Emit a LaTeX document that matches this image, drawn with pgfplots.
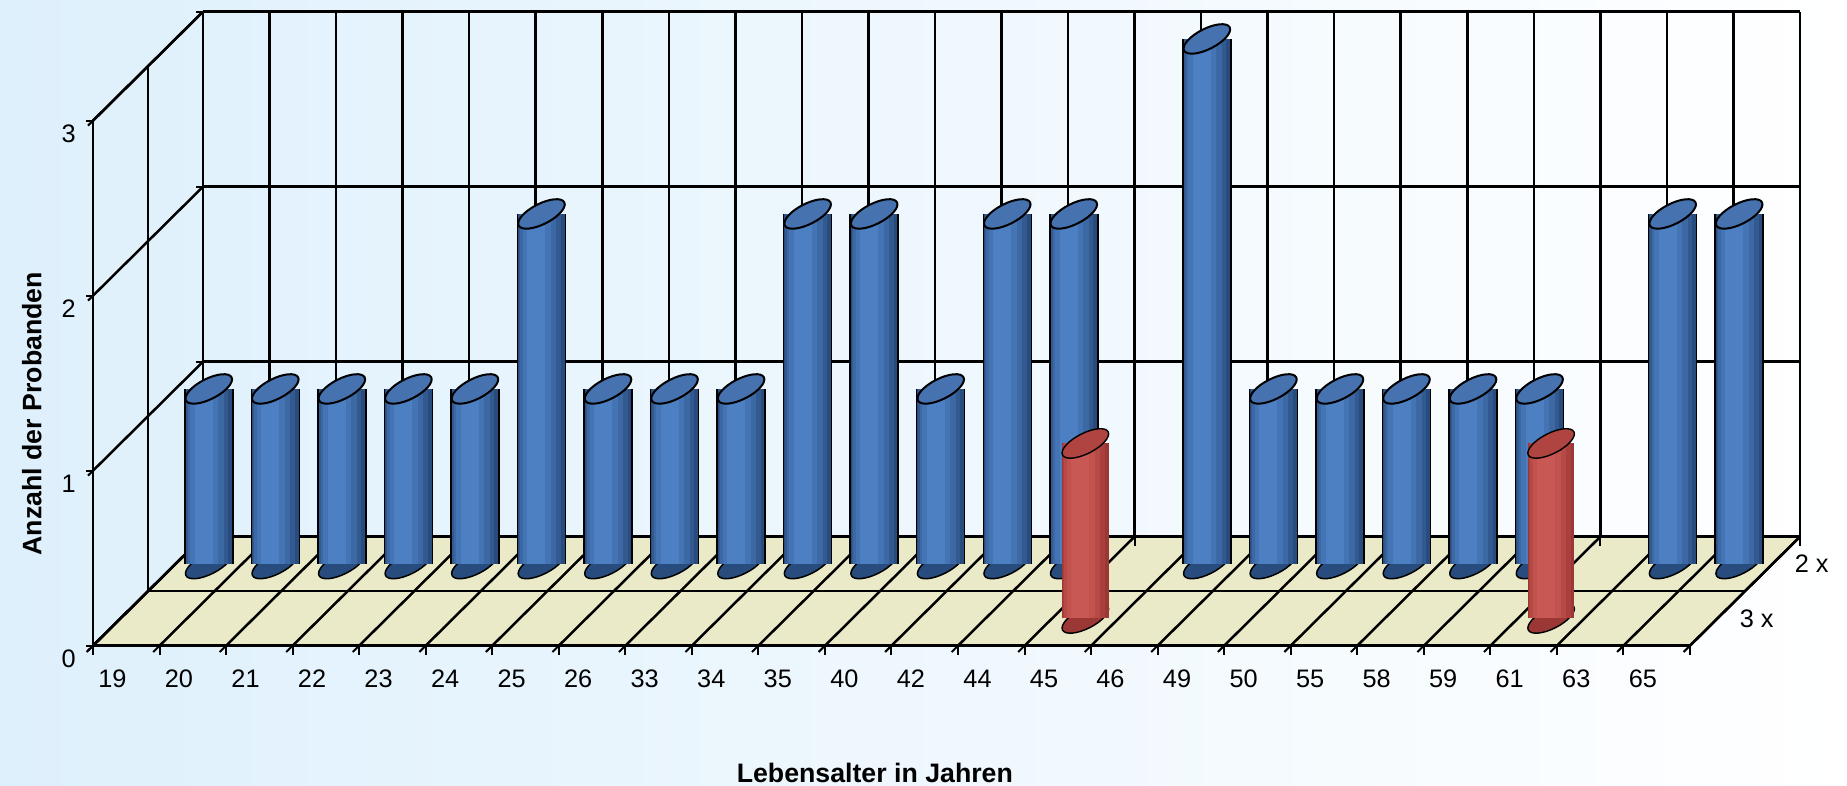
\documentclass[border=0pt]{standalone}
\usepackage{pgfplots}
\pgfplotsset{compat=1.18}
\usepackage{pgfplotstable}
\usepackage{fontspec}
\setmainfont{Liberation Sans}
\definecolor{bgblue}{RGB}{222,240,252}
\definecolor{floorc}{RGB}{234,234,200}
\definecolor{bdark}{RGB}{40,76,125}
\definecolor{bc1}{RGB}{50,90,145}
\definecolor{bc2}{RGB}{60,104,163}
\definecolor{bc3}{RGB}{68,116,180}
\definecolor{bc4}{RGB}{76,128,194}
\definecolor{btop}{RGB}{70,114,176}
\definecolor{rdark}{RGB}{155,55,52}
\definecolor{rc1}{RGB}{170,64,61}
\definecolor{rc2}{RGB}{184,74,70}
\definecolor{rc3}{RGB}{194,82,78}
\definecolor{rc4}{RGB}{200,88,84}
\definecolor{rtop}{RGB}{176,68,64}

\pgfplotstableread{
x y h
1 1.5 1
2 1.5 1
3 1.5 1
4 1.5 1
5 1.5 1
6 1.5 2
7 1.5 1
8 1.5 1
9 1.5 1
10 1.5 2
11 1.5 2
12 1.5 1
13 1.5 2
14 1.5 2
16 1.5 3
17 1.5 1
18 1.5 1
19 1.5 1
20 1.5 1
21 1.5 1
23 1.5 2
24 1.5 2
}\twox
\pgfplotstableread{
x y h
15 0.5 1
22 0.5 1
}\threex

\pgfplotsset{
  body/.style={line cap=butt, no markers, quiver={u=0,v=0,w=\thisrow{h}}},
  cap/.style={only marks, mark=*, mark size=1.02mm, mark options={rotate=27, xscale=2.51, #1}},
}

\begin{document}
\begin{tikzpicture}
\begin{axis}[
  set layers,
  clip=false,
  clip marker paths=true,
  x={(6.654mm,0mm)}, y={(5.5mm,5.45mm)}, z={(0mm,17.5mm)},
  xmin=0.5, xmax=24.5, ymin=0, ymax=2, zmin=0, zmax=3,
  xtick={1,...,24},
  xticklabels={19,20,21,22,23,24,25,26,33,34,35,40,42,44,45,46,49,50,55,58,59,61,63,65},
  minor xtick={0.5,1.5,...,24.5},
  ytick={0.5,1.5}, yticklabels={3 x,2 x},
  minor ytick={0,1,2},
  ztick={0,1,2,3},
  xmajorgrids=false, xminorgrids=true,
  ymajorgrids=false, yminorgrids=true,
  zmajorgrids=true,
  major grid style={black, line width=0.25mm},
  minor grid style={black, line width=0.25mm},
  axis line style={black, line width=0.25mm},
  tick pos=left,
  tick align=outside,
  major tick length=0.7mm,
  minor tick length=0.9mm,
  every major x tick/.append style={draw=none},
  every y tick/.append style={draw=none},
  every minor y tick/.append style={draw=none},
  every tick/.append style={black, line width=0.2mm},
  ticklabel style={font=\fontsize{7.2}{8.5}\selectfont},
  xticklabel style={yshift=-0.7mm},
  yticklabel style={anchor=west, xshift=0.3mm},
  /pgf/number format/assume math mode=true,
]
\begin{pgfonlayer}{axis background}
\shade[left color=bgblue, right color=white] (axis cs:-0.8977,0,-0.8017) rectangle (axis cs:26.86,0,3.6897);
\fill[floorc] (axis cs:0.5,0,0) -- (axis cs:24.5,0,0) -- (axis cs:24.5,2,0) -- (axis cs:0.5,2,0) -- cycle;
\end{pgfonlayer}

% ---- 2 x (back row, blue cylinders)
\addplot3[cap={fill=bdark, draw=black, line width=0.15mm}] table[x=x,y=y,z expr=0]{\twox};
\addplot3[body, draw=black, line width=4.95mm] table[x=x,y=y,z expr=0]{\twox};
\addplot3[body, draw=bdark, line width=4.65mm] table[x=x,y=y,z expr=0]{\twox};
\addplot3[body, draw=bc1, line width=4.2mm, xshift=-0.15mm] table[x=x,y=y,z expr=0]{\twox};
\addplot3[body, draw=bc2, line width=3.6mm, xshift=-0.3mm] table[x=x,y=y,z expr=0]{\twox};
\addplot3[body, draw=bc3, line width=2.8mm, xshift=-0.45mm] table[x=x,y=y,z expr=0]{\twox};
\addplot3[body, draw=bc4, line width=1.8mm, xshift=-0.5mm] table[x=x,y=y,z expr=0]{\twox};
\addplot3[cap={fill=btop, draw=black, line width=0.2mm}] table[x=x,y=y,z=h]{\twox};

% ---- 3 x (front row, red cylinders)
\addplot3[cap={fill=rdark, draw=none}] table[x=x,y=y,z expr=0]{\threex};
\addplot3[body, draw=rdark, line width=4.65mm] table[x=x,y=y,z expr=0]{\threex};
\addplot3[body, draw=rc1, line width=4.2mm, xshift=-0.15mm] table[x=x,y=y,z expr=0]{\threex};
\addplot3[body, draw=rc2, line width=3.6mm, xshift=-0.3mm] table[x=x,y=y,z expr=0]{\threex};
\addplot3[body, draw=rc3, line width=2.8mm, xshift=-0.45mm] table[x=x,y=y,z expr=0]{\threex};
\addplot3[body, draw=rc4, line width=1.8mm, xshift=-0.5mm] table[x=x,y=y,z expr=0]{\threex};
\addplot3[cap={fill=rtop, draw=none}] table[x=x,y=y,z=h]{\threex};

\node[inner sep=0pt, font=\bfseries\fontsize{7.6}{9}\selectfont] at (axis cs:12.25,0,-0.726) {Lebensalter in Jahren};
\node[inner sep=0pt, font=\bfseries\fontsize{7.6}{9}\selectfont, rotate=90] at (axis cs:-0.42,0,1.326) {Anzahl der Probanden};
\end{axis}
\end{tikzpicture}
\end{document}
